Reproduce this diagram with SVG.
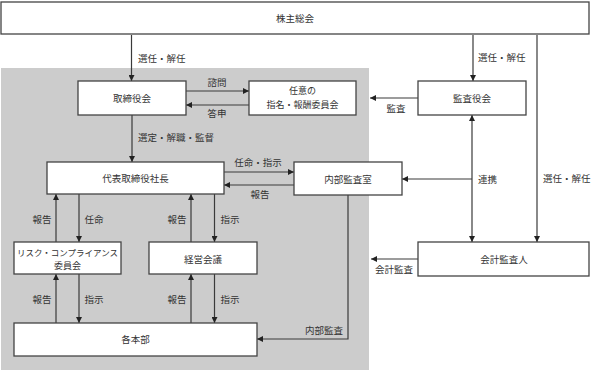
<svg xmlns="http://www.w3.org/2000/svg" width="591" height="370" viewBox="0 0 591 370">
<defs>
<style>
.box{fill:#ffffff;stroke:#444444;stroke-width:1.3}
.ln{fill:none;stroke:#3a3a3a;stroke-width:1.2;marker-end:url(#ah)}
text{font-family:"Noto Sans CJK JP","Noto Sans CJK SC",sans-serif;font-size:9.5px;fill:#333333;dominant-baseline:central}
.c{text-anchor:middle}
.s{text-anchor:start}
.sm{font-size:9px}
</style>
<marker id="ah" viewBox="0 0 6 6" refX="6" refY="3" markerWidth="6" markerHeight="6" markerUnits="userSpaceOnUse" orient="auto-start-reverse">
<path d="M0,0 L6,3 L0,6 z" fill="#222222"/>
</marker>
</defs>
<rect width="591" height="370" fill="#ffffff"/>
<rect x="1" y="68" width="368" height="302" fill="#cccccc"/>

<g id="connectors">
<path class="ln" d="M131.5,35 V81"/>
<path class="ln" d="M473,35 V81"/>
<path class="ln" d="M537,35 V242"/>
<path class="ln" d="M186,91 H249"/>
<path class="ln" d="M249,105 H186"/>
<path class="ln" d="M418,98 H370"/>
<path class="ln" d="M132,115 V162"/>
<path class="ln" d="M224,172 H294"/>
<path class="ln" d="M294,185 H224"/>
<path class="ln" d="M472,115 V242" style="marker-start:url(#ah)"/>
<path class="ln" d="M472,179 H402"/>
<path class="ln" d="M418,259 H371"/>
<path class="ln" d="M348,195 V339 H257"/>
<path class="ln" d="M56,242 V194"/>
<path class="ln" d="M79,194 V242"/>
<path class="ln" d="M191,242 V194"/>
<path class="ln" d="M214.5,194 V242"/>
<path class="ln" d="M56,323 V274"/>
<path class="ln" d="M79,274 V323"/>
<path class="ln" d="M191,323 V274"/>
<path class="ln" d="M214.5,274 V323"/>
</g>

<g id="node-shareholders">
<rect class="box" x="1" y="2" width="588" height="32"/>
<text class="c" x="295" y="18">株主総会</text>
</g>
<g id="node-board">
<rect class="box" x="78" y="81" width="108" height="34"/>
<text class="c" x="132" y="98">取締役会</text>
</g>
<g id="node-committee">
<rect class="box" x="249" y="81" width="107" height="34"/>
<text class="c sm" x="302.5" y="90.5">任意の</text>
<text class="c sm" x="302.5" y="104.5">指名・報酬委員会</text>
</g>
<g id="node-auditors">
<rect class="box" x="418" y="81" width="108" height="34"/>
<text class="c" x="472" y="98">監査役会</text>
</g>
<g id="node-president">
<rect class="box" x="47" y="162" width="177" height="32"/>
<text class="c" x="135.5" y="178">代表取締役社長</text>
</g>
<g id="node-internal-audit">
<rect class="box" x="294" y="162" width="108" height="33"/>
<text class="c" x="348" y="178.5">内部監査室</text>
</g>
<g id="node-risk">
<rect class="box" x="14" y="242" width="107" height="32"/>
<text class="c" x="67.5" y="251.5" style="font-size:8.5px">リスク・コンプライアンス</text>
<text class="c sm" x="67.5" y="265">委員会</text>
</g>
<g id="node-management">
<rect class="box" x="149" y="242" width="108" height="32"/>
<text class="c" x="203" y="258.5">経営会議</text>
</g>
<g id="node-divisions">
<rect class="box" x="14" y="323" width="243" height="33"/>
<text class="c" x="135.5" y="339">各本部</text>
</g>
<g id="node-accounting-auditor">
<rect class="box" x="418" y="242" width="171" height="34"/>
<text class="c" x="504" y="259">会計監査人</text>
</g>

<g id="labels">
<text class="s" x="138" y="58">選任・解任</text>
<text class="s" x="478" y="57">選任・解任</text>
<text class="s" x="543" y="178">選任・解任</text>
<text class="c" x="217" y="82">諮問</text>
<text class="c" x="217" y="113">答申</text>
<text class="c" x="396" y="108">監査</text>
<text class="s" x="138" y="137">選定・解職・監督</text>
<text class="c" x="258" y="162">任命・指示</text>
<text class="c" x="260" y="194">報告</text>
<text class="s" x="478" y="179">連携</text>
<text class="c" x="394" y="269">会計監査</text>
<text class="c" x="324" y="330">内部監査</text>
<text class="c" x="42" y="219">報告</text>
<text class="c" x="94" y="219">任命</text>
<text class="c" x="177" y="219">報告</text>
<text class="c" x="230" y="219">指示</text>
<text class="c" x="42" y="299">報告</text>
<text class="c" x="94" y="299">指示</text>
<text class="c" x="177" y="299">報告</text>
<text class="c" x="230" y="299">指示</text>
</g>
</svg>
